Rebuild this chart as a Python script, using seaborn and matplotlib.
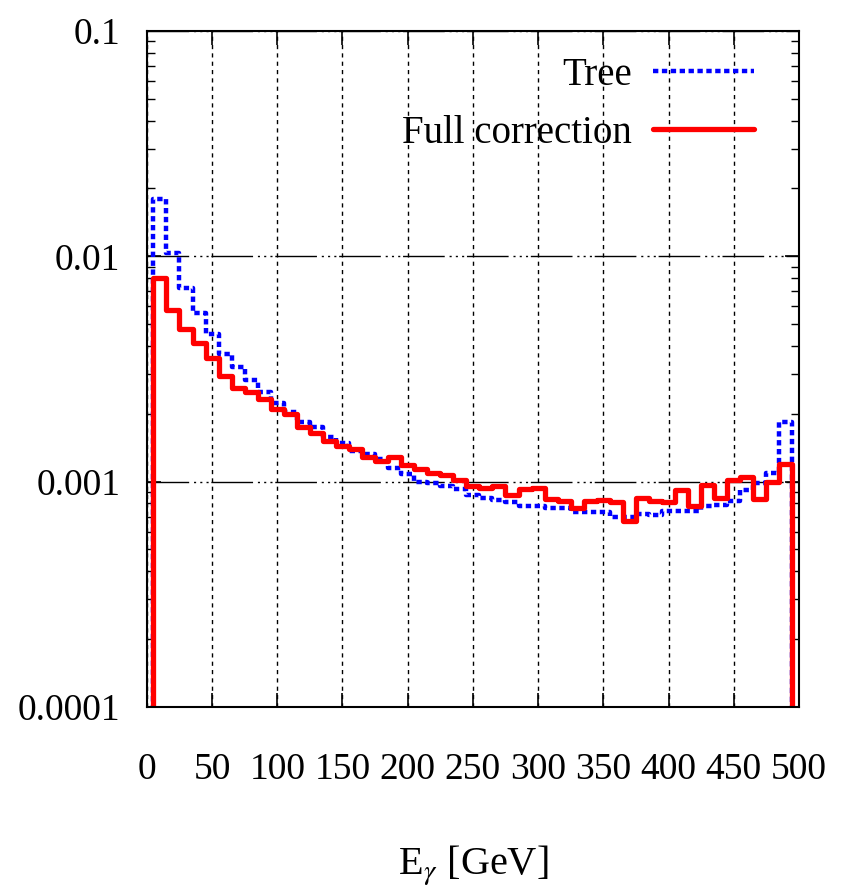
import numpy as np
import pandas as pd
import matplotlib
matplotlib.use("Agg")
import matplotlib.pyplot as plt
from matplotlib.ticker import LogLocator, NullFormatter
import seaborn as sns

sns.set_style("ticks")
plt.rcParams["font.family"] = ["Liberation Serif", "DejaVu Serif"]
plt.rcParams["mathtext.fontset"] = "stix"
plt.rcParams["text.color"] = "black"
plt.rcParams["axes.labelcolor"] = "black"

# --- Data (bin centres in GeV, 10 GeV bins) ---
centers = np.arange(10, 491, 10)
tree = [0.0180, 0.01034, 0.00724, 0.00561, 0.00450, 0.00367, 0.00321, 0.00282,
        0.00251, 0.00224, 0.00203, 0.00184, 0.00174, 0.00157, 0.00149, 0.00137,
        0.00132, 0.00126, 0.00115, 0.00108, 0.00100, 0.00099, 0.00096, 0.00093,
        0.00087, 0.00085, 0.00083, 0.00081, 0.00078, 0.00078, 0.00076, 0.00076,
        0.00073, 0.00073, 0.00073, 0.00070, 0.00070, 0.00072, 0.00071, 0.00074,
        0.00074, 0.00074, 0.00078, 0.00079, 0.00082, 0.00092, 0.00099, 0.00109,
        0.00184]
full = [0.0080, 0.00575, 0.00477, 0.00413, 0.00352, 0.00294, 0.00261, 0.00251,
        0.00232, 0.00211, 0.00199, 0.00174, 0.00164, 0.00152, 0.00144, 0.00140,
        0.00128, 0.00123, 0.00128, 0.00118, 0.00114, 0.00109, 0.00107, 0.00102,
        0.00096, 0.00094, 0.00096, 0.00087, 0.00093, 0.00094, 0.00084, 0.00082,
        0.00076, 0.00082, 0.00083, 0.00081, 0.00067, 0.00085, 0.00082, 0.00081,
        0.00092, 0.00078, 0.00097, 0.00085, 0.00102, 0.00105, 0.00084, 0.00100,
        0.00120]
# one empty bin on each side so the outline drops to the floor
edges = list(np.arange(centers[0] - 15, centers[-1] + 16, 10))

y_ticks = [1e-4, 1e-3, 1e-2, 1e-1]
y_labels = ["0.0001", "0.001", "0.01", "0.1"]

df = pd.DataFrame({"E": centers, "tree": tree, "full": full})

# --- Plotting ---
fig = plt.figure(figsize=(8.49, 8.96), dpi=100)
ax = fig.add_axes([0.173, 0.211, 0.768, 0.7545])

sns.histplot(data=df, x="E", weights="tree", bins=edges, element="step",
             fill=False, color="#0000ff", linewidth=3.2,
             linestyle=(0, (1.2, 0.8)), label="Tree", ax=ax)
sns.histplot(data=df, x="E", weights="full", bins=edges, element="step",
             fill=False, color="#ff0000", linewidth=3.8,
             label="Full correction", ax=ax)

ax.set_yscale("log")
ax.set_xlim(0, 500)
ax.set_ylim(1e-4, 0.1)

ax.set_xticks(np.arange(0, 501, 50))
ax.set_yticks(y_ticks)
ax.set_yticklabels(y_labels)
ax.yaxis.set_minor_locator(LogLocator(base=10, subs=np.arange(2, 10)))
ax.yaxis.set_minor_formatter(NullFormatter())
ax.xaxis.set_minor_locator(plt.NullLocator())

ax.tick_params(which="both", direction="in", top=True, right=True,
               colors="black", labelcolor="black", labelsize=27)
ax.tick_params(which="major", length=10, width=1.2)
ax.tick_params(which="minor", length=6, width=1.0)
ax.tick_params(axis="x", pad=33)
ax.tick_params(axis="y", pad=19)

for s in ax.spines.values():
    s.set_color("black")
    s.set_linewidth(1.5)

# gnuplot-like grid
ax.set_axisbelow(True)
ax.grid(axis="x", which="major", color="black", linewidth=1.0,
        linestyle=(0, (3, 3)))
ax.grid(axis="y", which="major", color="black", linewidth=1.0,
        linestyle=(0, (30, 3.5, 1.5, 3, 1.5, 3, 1.5, 2)))

ax.set_xlabel(r"E$_\gamma$ [GeV]", fontsize=29, labelpad=40)
ax.set_ylabel("")

ax.legend(loc="upper right", frameon=False, markerfirst=False, fontsize=28,
          handlelength=2.6, labelspacing=0.55, handletextpad=0.55,
          borderaxespad=0.0, bbox_to_anchor=(0.955, 0.985))

fig.savefig("out.png", dpi=100)
